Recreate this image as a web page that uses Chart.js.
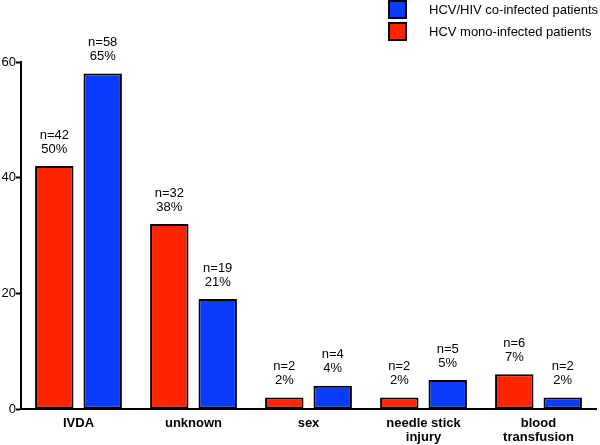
<!DOCTYPE html>
<html>
<head>
<meta charset="utf-8">
<script src="https://cdn.jsdelivr.net/npm/chart.js@4"></script>
<style>
  html, body { margin: 0; padding: 0; background: #fff; }
  #contenedor { width: 600px; height: 445px; position: relative; }
</style>
</head>
<body>
<div id="contenedor"><canvas id="vias-transmision"></canvas></div>
<script>
const categorias = ['IVDA', 'unknown', 'sex', ['needle stick', 'injury'], ['blood', 'transfusion']];
const monoCasos = [42, 32, 2, 2, 6];
const monoPorcentajes = [50, 38, 2, 2, 7];
const coCasos = [58, 19, 4, 5, 2];
const coPorcentajes = [65, 21, 4, 5, 2];
const marcasY = [0, 20, 40, 60];

const ROJO = '#ff2400';
const AZUL = '#0a3cff';
const FUENTE = 'Arial, "Liberation Sans", Helvetica, sans-serif';

Chart.defaults.font.family = FUENTE;
Chart.defaults.color = '#000';

// etiquetas n= / % encima de cada barra
const etiquetasBarras = {
  id: 'etiquetasBarras',
  afterDatasetsDraw(chart) {
    const ctx = chart.ctx;
    ctx.save();
    ctx.font = '13px ' + FUENTE;
    ctx.fillStyle = '#000';
    ctx.textAlign = 'center';
    ctx.textBaseline = 'middle';
    chart.data.datasets.forEach((ds, i) => {
      chart.getDatasetMeta(i).data.forEach((barra, j) => {
        ctx.fillText('n=' + ds.data[j], barra.x, barra.y - 31);
        ctx.fillText(ds.porcentajes[j] + '%', barra.x, barra.y - 17);
      });
    });
    ctx.restore();
  }
};

// leyenda vertical arriba a la derecha, azul primero
const leyenda = {
  id: 'leyenda',
  afterDraw(chart) {
    const ctx = chart.ctx;
    const items = [chart.data.datasets[1], chart.data.datasets[0]];
    ctx.save();
    ctx.font = '13px ' + FUENTE;
    ctx.textBaseline = 'middle';
    items.forEach((ds, k) => {
      const y = 1 + k * 22;
      ctx.fillStyle = ds.backgroundColor;
      ctx.fillRect(389, y, 17, 17);
      ctx.lineWidth = 2;
      ctx.strokeStyle = '#000';
      ctx.strokeRect(389, y, 17, 17);
      ctx.fillStyle = '#000';
      ctx.fillText(ds.label, 429, y + 9);
    });
    ctx.restore();
  }
};

const ctx = document.getElementById('vias-transmision');
new Chart(ctx, {
  type: 'bar',
  data: {
    labels: categorias,
    datasets: [
      {
        label: 'HCV mono-infected patients',
        data: monoCasos,
        porcentajes: monoPorcentajes,
        backgroundColor: ROJO,
        borderColor: '#000',
        borderWidth: 2,
        borderSkipped: false,
        inflateAmount: 0
      },
      {
        label: 'HCV/HIV co-infected patients',
        data: coCasos,
        porcentajes: coPorcentajes,
        backgroundColor: AZUL,
        borderColor: '#000',
        borderWidth: 2,
        borderSkipped: false,
        inflateAmount: 0
      }
    ]
  },
  options: {
    responsive: true,
    maintainAspectRatio: false,
    animation: false,
    datasets: {
      bar: {
        categoryPercentage: 0.842,
        barPercentage: 0.794
      }
    },
    layout: {
      padding: { top: 62, right: 4, left: 0, bottom: 0 }
    },
    plugins: {
      legend: { display: false },
      tooltip: { enabled: false }
    },
    scales: {
      x: {
        afterFit(escala) { escala.height = 36; },
        grid: { display: true, drawOnChartArea: false, drawTicks: false },
        border: { display: true, color: '#000', width: 2 },
        ticks: {
          autoSkip: false,
          maxRotation: 0,
          padding: 7,
          font: { size: 13, weight: 'bold', lineHeight: 1.1 }
        }
      },
      y: {
        min: 0,
        max: 60,
        afterFit(escala) { escala.width = 21; },
        afterBuildTicks(escala) {
          escala.ticks = marcasY.map((v) => ({ value: v }));
        },
        grid: {
          display: true,
          drawOnChartArea: false,
          drawTicks: true,
          tickLength: 5,
          tickWidth: 2,
          tickColor: '#000'
        },
        border: { display: true, color: '#000', width: 2 },
        ticks: {
          padding: 0,
          font: { size: 13 }
        }
      }
    }
  },
  plugins: [etiquetasBarras, leyenda]
});
</script>
</body>
</html>
